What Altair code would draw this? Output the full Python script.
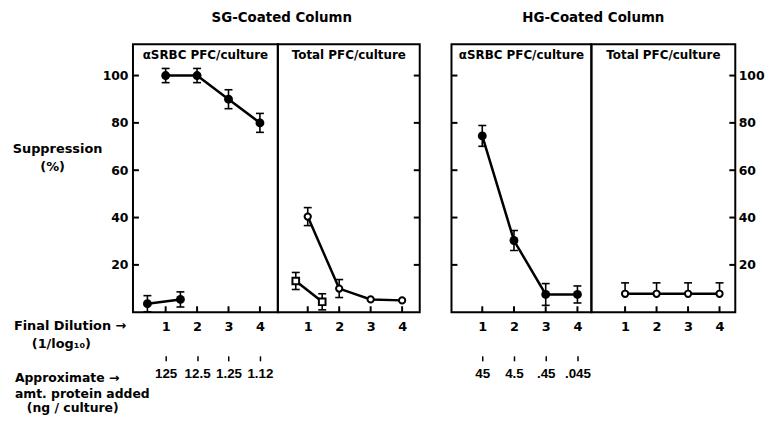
import altair as alt
import pandas as pd

FONT = "DejaVu Sans"
NUM_FONT = "Liberation Sans"

# ---------------- data ----------------
# SG-coated column, αSRBC PFC/culture
sg_a_x = [1, 2, 3, 4]
sg_a_y = [100, 100, 90, 80]
sg_a_err = [3, 3, 4, 4]
sg_a_low_x = [0.42, 1.47]
sg_a_low_y = [3.6, 5.4]
sg_a_low_err = [3.4, 3.2]

# SG-coated column, Total PFC/culture
sg_t_circ_x = [1, 2, 3, 4]
sg_t_circ_y = [40.4, 10, 5.4, 5]
sg_t_circ_err = [3.8, 3.8, 0, 0]
sg_t_sq_x = [0.62, 1.46]
sg_t_sq_y = [13.2, 4.4]
sg_t_sq_err = [3.6, 3.4]

# HG-coated column, αSRBC PFC/culture
hg_a_x = [1, 2, 3, 4]
hg_a_y = [74.5, 30.3, 7.5, 7.5]
hg_a_err = [4.4, 4.2, 4.6, 3.6]

# HG-coated column, Total PFC/culture
hg_t_x = [1, 2, 3, 4]
hg_t_y = [7.8, 7.8, 7.8, 7.8]
hg_t_err_hi = [4.6, 4.6, 4.6, 4.6]
hg_t_err_lo = [0, 0, 0, 0]

dilution_ticks = [1, 2, 3, 4]
sg_protein = ["125", "12.5", "1.25", "1.12"]
hg_protein = ["45", "4.5", ".45", ".045"]
y_ticks = [20, 40, 60, 80, 100]

headers = ["αSRBC PFC/culture", "Total PFC/culture"]
group_titles = ["SG-Coated Column", "HG-Coated Column"]
left_labels = ["Suppression", "(%)", "Final Dilution →", "(1/log₁₀)",
               "Approximate  →", "amt. protein added", "(ng / culture)"]

Y_DOMAIN = [0, 113.2]
H = 270
TICK = 6


def make_df(x, y, err_lo, err_hi, series, kind):
    return pd.DataFrame({
        "x": x, "y": y,
        "lo": [a - b for a, b in zip(y, err_lo)],
        "hi": [a + b for a, b in zip(y, err_hi)],
        "s": [series] * len(x),
        "kind": [kind] * len(x),
    })


def txt(s, x, y, align="left", size=13):
    return alt.Chart(pd.DataFrame({"t": [s]})).mark_text(
        align=align, baseline="middle", font=FONT, fontSize=size,
        fontWeight="bold", color="black"
    ).encode(text="t:N", x=alt.value(x), y=alt.value(y))


def yaxis(orient):
    return alt.Axis(values=y_ticks, orient=orient, ticks=False, domain=False,
                    grid=False, title=None, labelFont=FONT, labelFontSize=12.5,
                    labelFontWeight="bold", labelColor="black",
                    labelPadding=5 if orient == "left" else 3)


dil_axis = alt.Axis(values=dilution_ticks, orient="bottom", ticks=False,
                    domain=False, grid=False, title=None, format="d",
                    labelFont=FONT, labelFontSize=13, labelFontWeight="bold",
                    labelColor="black", labelPadding=8)


def protein_axis(labels):
    arr = "[" + ",".join("'%s'" % s for s in labels) + "]"
    return alt.Axis(values=dilution_ticks, orient="bottom", offset=44, tickSize=5,
                    tickWidth=1.5, tickColor="black", domain=False, grid=False,
                    title=None, labelExpr=arr + "[datum.value-1]",
                    labelFont=NUM_FONT, labelFontSize=13.5, labelFontWeight="bold",
                    labelColor="black", labelPadding=6)


def panel(df, width, xdom, header, yax, tick_side, protein=None, extra=()):
    xs = alt.Scale(domain=xdom, nice=False, zero=False)
    ys = alt.Scale(domain=Y_DOMAIN, nice=False, zero=False)
    base = alt.Chart(df)

    def X():
        return alt.X("x:Q", scale=xs, axis=None)

    def Yf(f):
        return alt.Y(f + ":Q", scale=ys, axis=None)

    tx0, tx1 = (0, TICK) if tick_side == "left" else (width - TICK, width)
    layers = [
        base.mark_line(color="black", strokeWidth=2.5).encode(
            x=alt.X("x:Q", scale=xs, axis=dil_axis),
            y=alt.Y("y:Q", scale=ys, axis=yax), detail="s:N"),
        # inward ticks drawn from the scales
        alt.Chart(pd.DataFrame({"v": y_ticks})).mark_rule(
            color="black", strokeWidth=2).encode(
            y=alt.Y("v:Q", scale=ys, axis=None), x=alt.value(tx0), x2=alt.value(tx1)),
        alt.Chart(pd.DataFrame({"v": dilution_ticks})).mark_rule(
            color="black", strokeWidth=2).encode(
            x=alt.X("v:Q", scale=xs, axis=None), y=alt.value(H - TICK), y2=alt.value(H)),
        base.mark_rule(color="black", strokeWidth=1.6).encode(
            x=X(), y=Yf("lo"), y2="hi:Q"),
        base.transform_filter("datum.hi > datum.y").mark_tick(
            orient="horizontal", size=8, thickness=1.6, color="black", opacity=1
        ).encode(x=X(), y=Yf("hi")),
        base.transform_filter("datum.lo < datum.y").mark_tick(
            orient="horizontal", size=8, thickness=1.6, color="black", opacity=1
        ).encode(x=X(), y=Yf("lo")),
        base.transform_filter("datum.kind == 'filled'").mark_point(
            shape="circle", filled=True, color="black", size=80, opacity=1
        ).encode(x=X(), y=Yf("y")),
        base.transform_filter("datum.kind == 'open'").mark_point(
            shape="circle", filled=True, fill="white", stroke="black",
            strokeWidth=2, size=40, opacity=1
        ).encode(x=X(), y=Yf("y")),
        base.transform_filter("datum.kind == 'square'").mark_point(
            shape="square", filled=True, fill="white", stroke="black",
            strokeWidth=2, size=45, opacity=1
        ).encode(x=X(), y=Yf("y")),
        txt(header, width / 2, 11, align="center", size=12),
    ]
    if protein is not None:
        layers.append(base.mark_point(opacity=0).encode(
            x=alt.X("x:Q", scale=xs, axis=protein_axis(protein)), y=Yf("y")))
    layers.extend(extra)
    return alt.layer(*layers).properties(width=width, height=H).resolve_axis(
        x="independent", y="independent")


df1 = pd.concat([
    make_df(sg_a_x, sg_a_y, sg_a_err, sg_a_err, "main", "filled"),
    make_df(sg_a_low_x, sg_a_low_y, sg_a_low_err, sg_a_low_err, "low", "filled"),
])
df2 = pd.concat([
    make_df(sg_t_circ_x, sg_t_circ_y, sg_t_circ_err, sg_t_circ_err, "circ", "open"),
    make_df(sg_t_sq_x, sg_t_sq_y, sg_t_sq_err, sg_t_sq_err, "sq", "square"),
])
df3 = make_df(hg_a_x, hg_a_y, hg_a_err, hg_a_err, "main", "filled")
df4 = make_df(hg_t_x, hg_t_y, hg_t_err_lo, hg_t_err_hi, "main", "open")

left_texts = [
    txt(left_labels[0], -76, 106, align="center"),
    txt(left_labels[1], -81, 124, align="center"),
    txt(left_labels[2], -120, 284),
    txt(left_labels[3], -102, 302),
    txt(left_labels[4], -119, 336, size=12.5),
    txt(left_labels[5], -119, 352, size=12.5),
    txt(left_labels[6], -107, 367, size=12.5),
]

p1 = panel(df1, 146, [-0.04, 4.57], headers[0], yaxis("left"), "left",
           protein=sg_protein, extra=left_texts)
p2 = panel(df2, 143, [0.05, 4.56], headers[1], None, "right",
           extra=[txt(group_titles[0], 4, -26, align="center", size=13.5)])
p3 = panel(df3, 141, [0.03, 4.44], headers[0], None, "left",
           protein=hg_protein)
p4 = panel(df4, 145, [-0.07, 4.5], headers[1], yaxis("right"), "right",
           extra=[txt(group_titles[1], 2, -26, align="center", size=13.5)])

spacer = alt.Chart(pd.DataFrame({"t": [""]})).mark_text().encode(
    text="t:N", x=alt.value(0), y=alt.value(0)
).properties(width=32, height=H, view=alt.ViewBackground(stroke=None))

chart = alt.hconcat(p1, p2, spacer, p3, p4, spacing=0, bounds="flush").configure_view(
    stroke="black", strokeWidth=2
).properties(
    background="white",
    padding={"left": 11, "top": 9, "right": 5, "bottom": 5}
)

chart.save("out.html", embed_options={"renderer": "svg", "actions": False})
